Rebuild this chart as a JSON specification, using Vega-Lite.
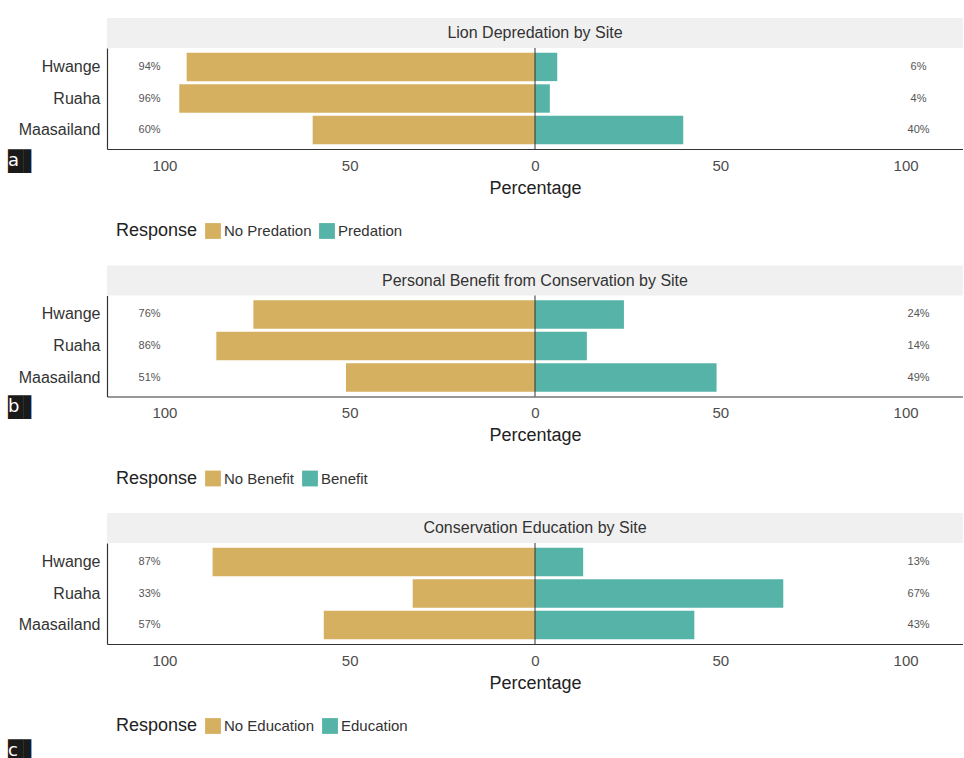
{
  "$schema": "https://vega.github.io/schema/vega-lite/v6.json",
  "padding": {"left": 8, "top": 18, "right": 0, "bottom": 0},
  "background": "white",
  "config": {
    "font": "Liberation Sans",
    "view": {"stroke": null},
    "axis": {"grid": false, "ticks": false, "domainColor": "#333333", "domainWidth": 1.2},
    "legend": {
      "orient": "none", "legendX": 9, "legendY": 205, "direction": "horizontal",
      "titleOrient": "left", "titleFontSize": 18, "titleFontWeight": "normal", "titleColor": "#222222",
      "labelFontSize": 15, "labelColor": "#333333", "symbolType": "square", "symbolSize": 250,
      "symbolStrokeWidth": 0, "symbolOpacity": 1, "columnPadding": 7, "labelOffset": 3, "titlePadding": 7
    },
    "title": {"fontWeight": "normal", "font": "DejaVu Sans", "fontSize": 20, "color": "#1a1a1a", "subtitleFont": "DejaVu Sans", "subtitleFontSize": 18, "subtitleColor": "#ffffff", "subtitlePadding": -20, "orient": "bottom", "anchor": "start", "frame": "group", "baseline": "top", "offset": 3, "dx": -99}
  },
  "bounds": "flush",
  "spacing": 247.5,
  "resolve": {"scale": {"color": "independent"}, "legend": {"color": "independent"}},
  "vconcat": [
    {
      "bounds": "flush", "spacing": 0,
      "vconcat": [
        {
          "width": 856, "height": 30,
          "view": {"fill": "#f0f0f0", "stroke": null},
          "data": {"values": [{"title": "Lion Depredation by Site"}]},
          "mark": {"type": "text", "fontSize": 16, "color": "#333333"},
          "encoding": {"text": {"field": "title"}}
        },
        {
          "width": 856, "height": 101,
          "title": {"text": "█▌", "subtitle": "\u00a0a", "dy": -48},
          "data": {"values": [
            {"site": "Hwange", "response": "No Predation", "value": -94, "label": "94%"},
            {"site": "Hwange", "response": "Predation", "value": 6, "label": "6%"},
            {"site": "Ruaha", "response": "No Predation", "value": -96, "label": "96%"},
            {"site": "Ruaha", "response": "Predation", "value": 4, "label": "4%"},
            {"site": "Maasailand", "response": "No Predation", "value": -60, "label": "60%"},
            {"site": "Maasailand", "response": "Predation", "value": 40, "label": "40%"}
          ]},
          "layer": [
            {
              "mark": "bar",
              "encoding": {
                "y": {"field": "site", "type": "nominal", "sort": ["Hwange", "Ruaha", "Maasailand"], "scale": {"paddingInner": 0.1, "paddingOuter": 0.15}, "axis": {"labelFontSize": 16, "labelColor": "#333333", "labelPadding": 7, "title": null}},
                "x": {"field": "value", "type": "quantitative", "scale": {"domain": [-115.5, 115.5], "nice": false, "zero": false}, "axis": {"values": [-100, -50, 0, 50, 100], "labelExpr": "'' + abs(datum.value)", "labelFontSize": 15, "labelColor": "#4d4d4d", "labelPadding": 9, "title": "Percentage", "titleFontSize": 18, "titleFontWeight": "normal", "titleColor": "#222222", "titlePadding": 6}},
                "color": {"field": "response", "type": "nominal", "sort": ["No Predation", "Predation"], "scale": {"domain": ["No Predation", "Predation"], "range": ["#D5B060", "#56B3A8"]}, "title": "Response"}
              }
            },
            {
              "data": {"values": [{}]},
              "mark": {"type": "rule", "color": "#333333", "strokeWidth": 1},
              "encoding": {"x": {"datum": 0}}
            },
            {
              "transform": [{"filter": "datum.value < 0"}],
              "mark": {"type": "text", "fontSize": 11, "color": "#555555"},
              "encoding": {
                "y": {"field": "site", "type": "nominal", "sort": ["Hwange", "Ruaha", "Maasailand"]},
                "x": {"datum": -104},
                "text": {"field": "label"}
              }
            },
            {
              "transform": [{"filter": "datum.value > 0"}],
              "mark": {"type": "text", "fontSize": 11, "color": "#555555"},
              "encoding": {
                "y": {"field": "site", "type": "nominal", "sort": ["Hwange", "Ruaha", "Maasailand"]},
                "x": {"datum": 103.5},
                "text": {"field": "label"}
              }
            }
          ]
        }
      ]
    },
    {
      "bounds": "flush", "spacing": 0,
      "vconcat": [
        {
          "width": 856, "height": 30,
          "view": {"fill": "#f0f0f0", "stroke": null},
          "data": {"values": [{"title": "Personal Benefit from Conservation by Site"}]},
          "mark": {"type": "text", "fontSize": 16, "color": "#333333"},
          "encoding": {"text": {"field": "title"}}
        },
        {
          "width": 856, "height": 101,
          "title": {"text": "█▌", "subtitle": "\u00a0b", "dy": -50},
          "data": {"values": [
            {"site": "Hwange", "response": "No Benefit", "value": -76, "label": "76%"},
            {"site": "Hwange", "response": "Benefit", "value": 24, "label": "24%"},
            {"site": "Ruaha", "response": "No Benefit", "value": -86, "label": "86%"},
            {"site": "Ruaha", "response": "Benefit", "value": 14, "label": "14%"},
            {"site": "Maasailand", "response": "No Benefit", "value": -51, "label": "51%"},
            {"site": "Maasailand", "response": "Benefit", "value": 49, "label": "49%"}
          ]},
          "layer": [
            {
              "mark": "bar",
              "encoding": {
                "y": {"field": "site", "type": "nominal", "sort": ["Hwange", "Ruaha", "Maasailand"], "scale": {"paddingInner": 0.1, "paddingOuter": 0.15}, "axis": {"labelFontSize": 16, "labelColor": "#333333", "labelPadding": 7, "title": null}},
                "x": {"field": "value", "type": "quantitative", "scale": {"domain": [-115.5, 115.5], "nice": false, "zero": false}, "axis": {"values": [-100, -50, 0, 50, 100], "labelExpr": "'' + abs(datum.value)", "labelFontSize": 15, "labelColor": "#4d4d4d", "labelPadding": 9, "title": "Percentage", "titleFontSize": 18, "titleFontWeight": "normal", "titleColor": "#222222", "titlePadding": 6}},
                "color": {"field": "response", "type": "nominal", "sort": ["No Benefit", "Benefit"], "scale": {"domain": ["No Benefit", "Benefit"], "range": ["#D5B060", "#56B3A8"]}, "title": "Response"}
              }
            },
            {
              "data": {"values": [{}]},
              "mark": {"type": "rule", "color": "#333333", "strokeWidth": 1},
              "encoding": {"x": {"datum": 0}}
            },
            {
              "transform": [{"filter": "datum.value < 0"}],
              "mark": {"type": "text", "fontSize": 11, "color": "#555555"},
              "encoding": {
                "y": {"field": "site", "type": "nominal", "sort": ["Hwange", "Ruaha", "Maasailand"]},
                "x": {"datum": -104},
                "text": {"field": "label"}
              }
            },
            {
              "transform": [{"filter": "datum.value > 0"}],
              "mark": {"type": "text", "fontSize": 11, "color": "#555555"},
              "encoding": {
                "y": {"field": "site", "type": "nominal", "sort": ["Hwange", "Ruaha", "Maasailand"]},
                "x": {"datum": 103.5},
                "text": {"field": "label"}
              }
            }
          ]
        }
      ]
    },
    {
      "bounds": "flush", "spacing": 0,
      "vconcat": [
        {
          "width": 856, "height": 30,
          "view": {"fill": "#f0f0f0", "stroke": null},
          "data": {"values": [{"title": "Conservation Education by Site"}]},
          "mark": {"type": "text", "fontSize": 16, "color": "#333333"},
          "encoding": {"text": {"field": "title"}}
        },
        {
          "width": 856, "height": 101,
          "title": {"text": "█▌", "subtitle": "\u00a0c", "dy": 47},
          "data": {"values": [
            {"site": "Hwange", "response": "No Education", "value": -87, "label": "87%"},
            {"site": "Hwange", "response": "Education", "value": 13, "label": "13%"},
            {"site": "Ruaha", "response": "No Education", "value": -33, "label": "33%"},
            {"site": "Ruaha", "response": "Education", "value": 67, "label": "67%"},
            {"site": "Maasailand", "response": "No Education", "value": -57, "label": "57%"},
            {"site": "Maasailand", "response": "Education", "value": 43, "label": "43%"}
          ]},
          "layer": [
            {
              "mark": "bar",
              "encoding": {
                "y": {"field": "site", "type": "nominal", "sort": ["Hwange", "Ruaha", "Maasailand"], "scale": {"paddingInner": 0.1, "paddingOuter": 0.15}, "axis": {"labelFontSize": 16, "labelColor": "#333333", "labelPadding": 7, "title": null}},
                "x": {"field": "value", "type": "quantitative", "scale": {"domain": [-115.5, 115.5], "nice": false, "zero": false}, "axis": {"values": [-100, -50, 0, 50, 100], "labelExpr": "'' + abs(datum.value)", "labelFontSize": 15, "labelColor": "#4d4d4d", "labelPadding": 9, "title": "Percentage", "titleFontSize": 18, "titleFontWeight": "normal", "titleColor": "#222222", "titlePadding": 6}},
                "color": {"field": "response", "type": "nominal", "sort": ["No Education", "Education"], "scale": {"domain": ["No Education", "Education"], "range": ["#D5B060", "#56B3A8"]}, "title": "Response"}
              }
            },
            {
              "data": {"values": [{}]},
              "mark": {"type": "rule", "color": "#333333", "strokeWidth": 1},
              "encoding": {"x": {"datum": 0}}
            },
            {
              "transform": [{"filter": "datum.value < 0"}],
              "mark": {"type": "text", "fontSize": 11, "color": "#555555"},
              "encoding": {
                "y": {"field": "site", "type": "nominal", "sort": ["Hwange", "Ruaha", "Maasailand"]},
                "x": {"datum": -104},
                "text": {"field": "label"}
              }
            },
            {
              "transform": [{"filter": "datum.value > 0"}],
              "mark": {"type": "text", "fontSize": 11, "color": "#555555"},
              "encoding": {
                "y": {"field": "site", "type": "nominal", "sort": ["Hwange", "Ruaha", "Maasailand"]},
                "x": {"datum": 103.5},
                "text": {"field": "label"}
              }
            }
          ]
        }
      ]
    }
  ]
}
